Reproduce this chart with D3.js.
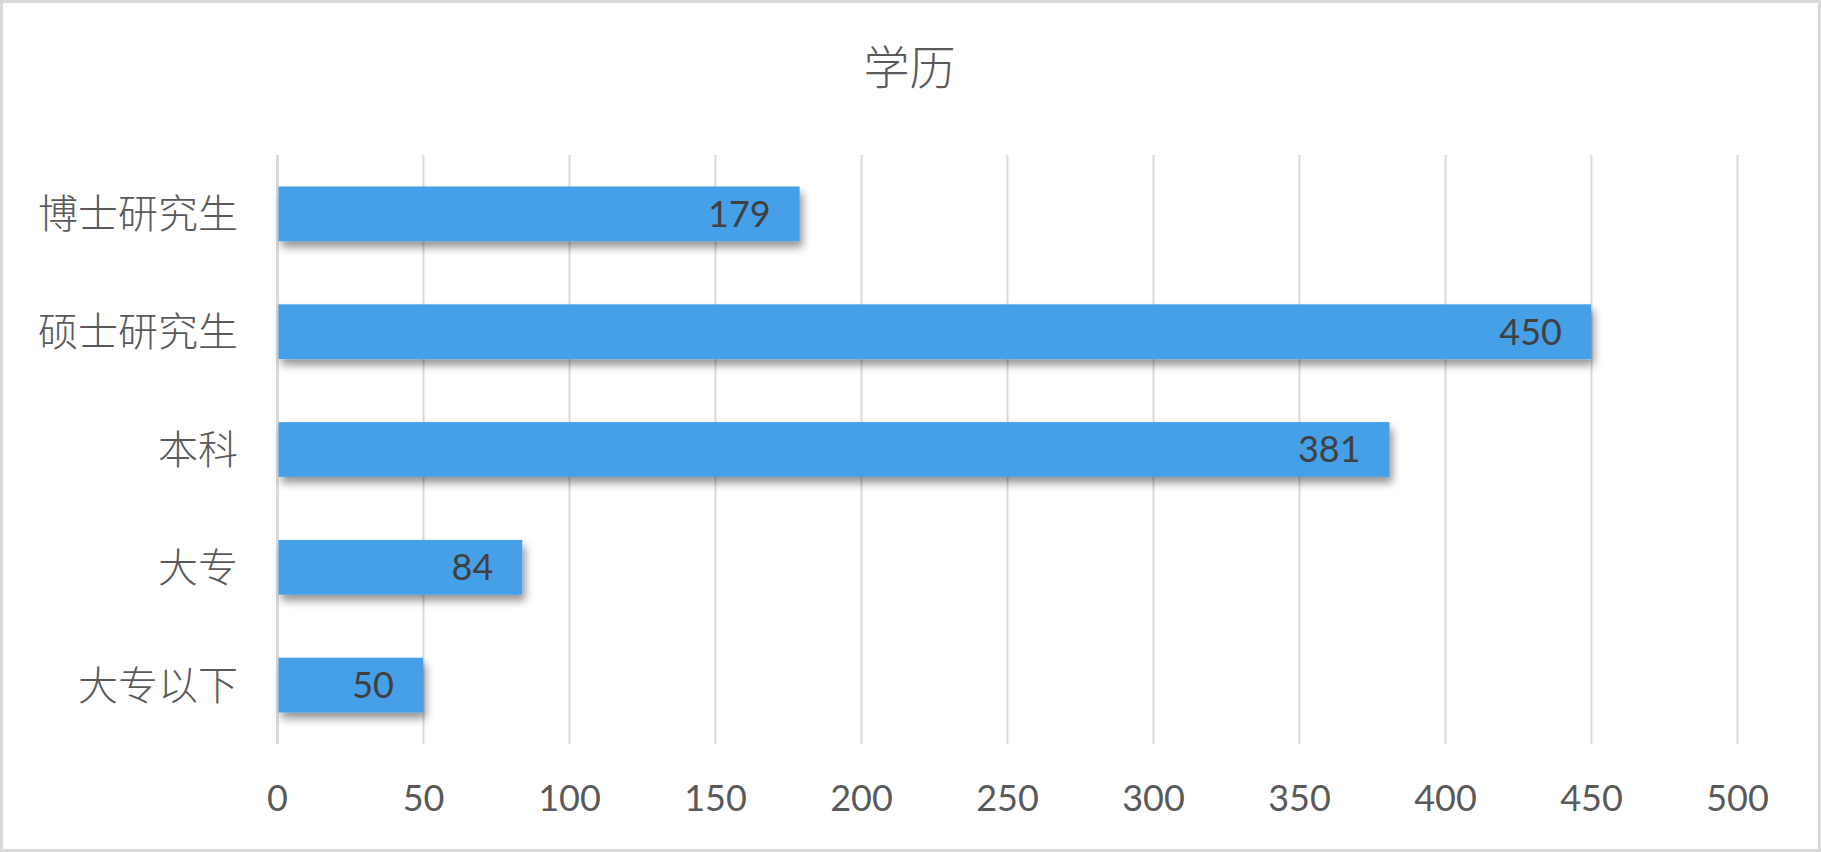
<!DOCTYPE html>
<html>
<head>
<meta charset="utf-8">
<script src="https://cdn.jsdelivr.net/npm/d3@7"></script>
<style>
  html, body { margin: 0; padding: 0; background: #fff; }
  svg { display: block; }
</style>
</head>
<body>
<script>
// Education level headcount
const title = "学历";
const categories = ["博士研究生", "硕士研究生", "本科", "大专", "大专以下"];
const counts = [179, 450, 381, 84, 50];
const xTicks = [0, 50, 100, 150, 200, 250, 300, 350, 400, 450, 500];

const W = 1821, H = 852;
const plot = { left: 277, right: 1737, top: 155, bottom: 744 };

const svg = d3.select("body").append("svg")
  .attr("width", W).attr("height", H);

// outer chart frame
svg.append("rect")
  .attr("x", 1.5).attr("y", 1.5)
  .attr("width", W - 3).attr("height", H - 3)
  .attr("fill", "#fff")
  .attr("stroke", "#d9d9d9").attr("stroke-width", 3);

// soft drop shadow for bars
const defs = svg.append("defs");
const f = defs.append("filter").attr("id", "barShadow")
  .attr("x", "-10%").attr("y", "-30%").attr("width", "130%").attr("height", "200%");
f.append("feDropShadow")
  .attr("dx", 3).attr("dy", 6).attr("stdDeviation", 4.5)
  .attr("flood-color", "#000").attr("flood-opacity", 0.42);

const x = d3.scaleLinear().domain([0, 500]).range([plot.left, plot.right]);
const y = d3.scaleBand().domain(categories)
  .range([plot.top, plot.bottom])
  .paddingInner(0.535).paddingOuter(0.2675);

// vertical gridlines
const grid = svg.append("g")
  .attr("transform", `translate(0,${plot.bottom})`)
  .call(d3.axisBottom(x).tickValues(xTicks)
    .tickSize(-(plot.bottom - plot.top)).tickFormat(""));
grid.select(".domain").remove();
grid.selectAll(".tick line")
  .attr("stroke", "#d9d9d9")
  .attr("stroke-width", d => d === 0 ? 3 : 2);

// x tick labels
const xa = svg.append("g")
  .attr("transform", `translate(0,${plot.bottom})`)
  .call(d3.axisBottom(x).tickValues(xTicks).tickSize(0).tickPadding(41));
xa.select(".domain").remove();
xa.selectAll("text")
  .attr("fill", "#595959")
  .style("font-family", "Lato, 'Open Sans', sans-serif")
  .style("font-size", "36px");

// category labels
const ya = svg.append("g")
  .attr("transform", `translate(${plot.left},0)`)
  .call(d3.axisLeft(y).tickSize(0).tickPadding(39));
ya.select(".domain").remove();
ya.selectAll("text")
  .attr("fill", "#595959")
  .attr("dy", "0.36em")
  .style("font-family", "'Noto Sans CJK SC', sans-serif")
  .style("font-weight", 300)
  .style("font-size", "40px");

const rows = categories.map((c, i) => ({ c, v: counts[i] }));

// bars
svg.append("g").selectAll("rect")
  .data(rows).join("rect")
  .attr("x", x(0) + 1.5)
  .attr("y", d => y(d.c))
  .attr("width", d => x(d.v) - x(0) - 1.5)
  .attr("height", y.bandwidth())
  .attr("fill", "#45a0e8")
  .attr("filter", "url(#barShadow)");

// value labels inside bar ends
svg.append("g").selectAll("text")
  .data(rows).join("text")
  .attr("x", d => x(d.v) - 29)
  .attr("y", d => y(d.c) + y.bandwidth() / 2)
  .attr("dy", "0.36em")
  .attr("text-anchor", "end")
  .attr("fill", "#404040")
  .style("font-family", "Lato, 'Open Sans', sans-serif")
  .style("font-size", "36px")
  .text(d => d.v);

// title
svg.append("text")
  .attr("x", W / 2 - 1)
  .attr("y", 67)
  .attr("dy", "0.36em")
  .attr("text-anchor", "middle")
  .attr("fill", "#595959")
  .style("font-family", "'Noto Sans CJK SC', sans-serif")
  .style("font-weight", 300)
  .style("font-size", "46px")
  .text(title);
</script>
</body>
</html>
